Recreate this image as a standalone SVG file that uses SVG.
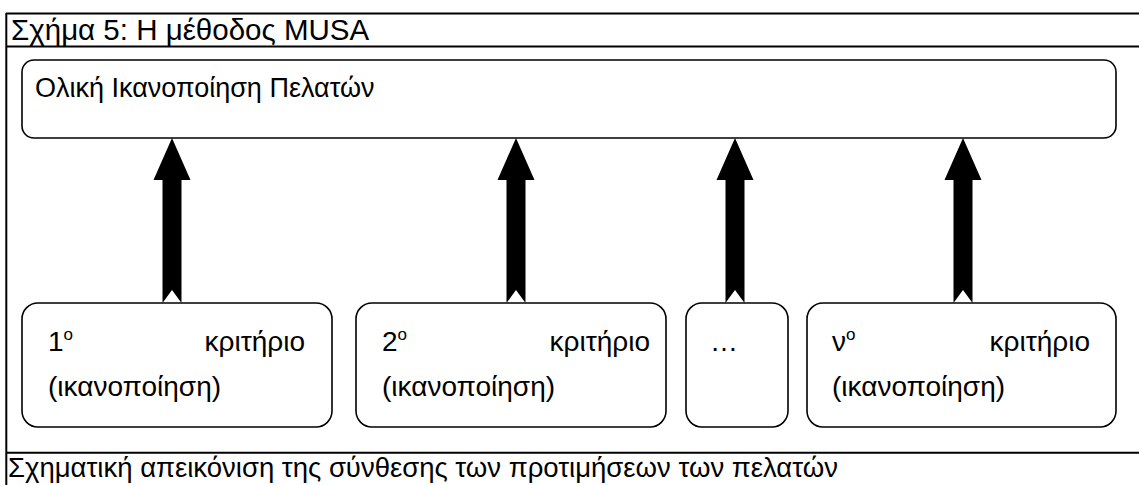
<svg xmlns="http://www.w3.org/2000/svg" width="1139" height="485" viewBox="0 0 1139 485">
<style>
.frame{stroke:#000;stroke-width:2;fill:none}
.box{fill:#fff;stroke:#000;stroke-width:1.6}
.t{font-family:"Liberation Sans",Arial,sans-serif;font-size:28px;fill:#000}
.sup{font-size:17px}
.arrow{fill:#000;stroke:none}
</style>
<rect width="1139" height="485" fill="#fff"/>
<g id="frame">
<line class="frame" x1="6" y1="13.5" x2="1139" y2="13.5"/>
<line class="frame" x1="6.3" y1="13" x2="6.3" y2="485"/>
<line class="frame" x1="6" y1="46.5" x2="1139" y2="46.5"/>
<line class="frame" x1="6" y1="452.7" x2="1139" y2="452.7"/>
<text class="t" x="11" y="40" style="font-size:29.5px">Σχήμα 5: Η μέθοδος MUSA</text>
<text class="t" x="8" y="477" style="font-size:27.5px">Σχηματική απεικόνιση της σύνθεσης των προτιμήσεων των πελατών</text>
</g>
<g id="top">
<rect class="box" x="22" y="60" width="1094" height="78" rx="12"/>
<text class="t" x="35" y="97" style="font-size:27px">Ολική Ικανοποίηση Πελατών</text>
</g>
<g id="c1">
<rect class="box" x="22" y="303" width="310" height="124" rx="16"/>
<text class="t" x="48" y="351">1<tspan class="sup" dy="-11">ο</tspan></text>
<text class="t" x="305" y="351" text-anchor="end">κριτήριο</text>
<text class="t" x="48" y="396">(ικανοποίηση)</text>
</g>
<g id="c2">
<rect class="box" x="356" y="303" width="310" height="124" rx="16"/>
<text class="t" x="382" y="351">2<tspan class="sup" dy="-11">ο</tspan></text>
<text class="t" x="650" y="351" text-anchor="end">κριτήριο</text>
<text class="t" x="382" y="396">(ικανοποίηση)</text>
</g>
<g id="c3">
<rect class="box" x="686" y="303" width="102" height="124" rx="16"/>
<text class="t" x="710" y="351">…</text>
</g>
<g id="c4">
<rect class="box" x="807" y="303" width="309" height="124" rx="16"/>
<text class="t" x="832" y="351">ν<tspan class="sup" dy="-11">ο</tspan></text>
<text class="t" x="1090" y="351" text-anchor="end">κριτήριο</text>
<text class="t" x="832" y="396">(ικανοποίηση)</text>
</g>
<g id="connectors">
<polygon class="arrow" points="162.5,303 172,290 181.5,303 181.5,180 190.5,180 172,138 153.5,180 162.5,180"/>
<polygon class="arrow" points="506.5,303 516,290 525.5,303 525.5,180 534.5,180 516,138 497.5,180 506.5,180"/>
<polygon class="arrow" points="725.5,303 735,290 744.5,303 744.5,180 753.5,180 735,138 716.5,180 725.5,180"/>
<polygon class="arrow" points="953.5,303 963,290 972.5,303 972.5,180 981.5,180 963,138 944.5,180 953.5,180"/>
</g>
</svg>
